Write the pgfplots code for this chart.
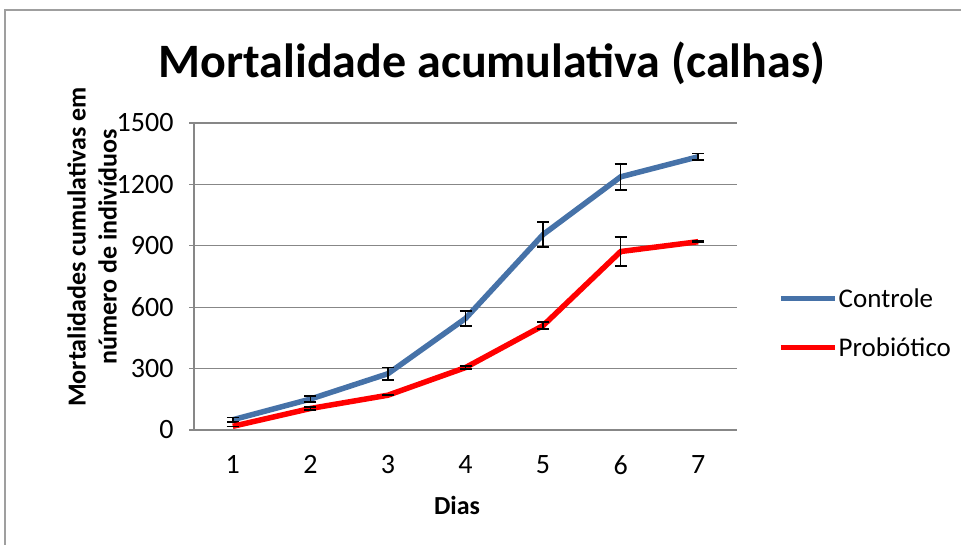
\documentclass[border=0pt]{standalone}
\usepackage{fontspec}
\setmainfont{Carlito}
\usepackage{pgfplots}
\pgfplotsset{compat=1.18}
\usepackage{pgfplotstable}
\definecolor{ctrl}{HTML}{4672A8}
\definecolor{grd}{HTML}{878787}
\pgfplotstableread{
x y e
1 50 12
2 151 14
3 275 30
4 545 36
5 955 60
6 1237 63
7 1335 15
}\controle
\pgfplotstableread{
x y e
1 18 0
2 105 6
3 170 0
4 305 8
5 510 18
6 872 72
7 920 4
}\probiotico
\begin{document}
\begin{tikzpicture}[x=1pt,y=1pt]
\path[use as bounding box] (0,0) rectangle (961,545);
\draw[color=grd!80, line width=1.2pt] (5,0) -- (5,535) -- (961,535);
\node[font=\bfseries\fontsize{48}{56}\selectfont] at (492,482) {Mortalidade acumulativa (calhas)};
\node[font=\bfseries\fontsize{26}{31}\selectfont, rotate=90, align=center] at (92,298) {Mortalidades cumulativas em\\número de indivíduos};
\node[font=\bfseries\fontsize{26}{31}\selectfont] at (457,40) {Dias};
\begin{axis}[
  at={(194pt,115pt)}, anchor=south west,
  scale only axis, width=543pt, height=307pt,
  xmin=0.5, xmax=7.5, ymin=0, ymax=1500,
  xtick={1,...,7}, ytick={0,300,...,1500},
  axis x line*=bottom, axis y line*=left,
  axis line style={grd, line width=1.2pt, -},
  ymajorgrids, grid style={grd, line width=1.2pt},
  tick align=outside,
  x tick style={draw=none},
  y tick style={grd, line width=1.2pt},
  major tick length=5pt,
  tick label style={font=\fontsize{28}{32}\selectfont},
  /pgf/number format/assume math mode=true,
  /pgf/number format/1000 sep={},
  yticklabel style={xshift=-12pt},
  xticklabel style={yshift=-17pt},
  legend style={at={(1.0755,0.3485)}, anchor=west, draw=none, fill=none,
    font=\fontsize{27}{31}\selectfont, row sep=27pt, inner sep=0pt,
    nodes={inner sep=1pt}},
  legend cell align=left,
  legend image code/.code={\draw[line width=5.5pt,#1] (0pt,0pt) -- (54pt,0pt);},
  every axis plot/.append style={line width=5.5pt, no markers},
  error bars/error bar style={black, line width=1.6pt},
  error bars/error mark options={rotate=90, black, mark size=6pt, line width=1.6pt},
]
\addplot[ctrl, error bars/.cd, y dir=both, y explicit] table[x=x, y=y, y error=e] {\controle};
\addlegendentry{Controle}
\addplot[red, error bars/.cd, y dir=both, y explicit] table[x=x, y=y, y error=e] {\probiotico};
\addlegendentry{Probiótico}
\end{axis}
\end{tikzpicture}
\end{document}
